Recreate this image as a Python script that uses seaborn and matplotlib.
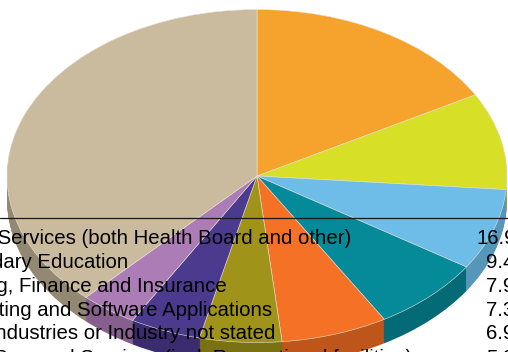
import matplotlib
matplotlib.use("Agg")
import matplotlib.pyplot as plt
import seaborn as sns

values = [16.9, 9.4, 7.9, 7.3, 6.9, 5.3, 4.6, 3.7, 38.0]
top_colors = ["#F6A32D", "#D7DF27", "#6DBDE8", "#058A99", "#F57125",
              "#9F9419", "#4B3A8E", "#AC7CB6", "#CABA9E"]
side_colors = ["#B97A22", "#A1A71D", "#5796BB", "#046A76", "#BE561B",
               "#7A7113", "#3A2C6E", "#865F8E", "#938872"]
row_labels = ["Health Services (both Health Board and other)",
              "Secondary Education",
              "Banking, Finance and Insurance",
              "Computing and Software Applications",
              "Other Industries or Industry not stated",
              "Personal Services (incl. Recreational facilities)"]
row_values = ["16.9%", "9.4%", "7.9%", "7.3%", "6.9%", "5.3%"]

sns.set_theme(style="white")
plt.rcParams["font.family"] = ["Liberation Sans", "DejaVu Sans"]

W, H = 508, 352
CX, CY, RX, RY, DEPTH = 257.0, 176.0, 250.0, 166.5, 24
fig = plt.figure(figsize=(W / 100, H / 100), dpi=100)
ax = fig.add_axes([0, 0, 1, 1])

# side wall: stacked layers under the top face
for d in range(DEPTH, 0, -1):
    ax.pie(values, colors=sns.color_palette(side_colors), startangle=90,
           counterclock=False, center=(0, -d / RY), radius=1,
           normalize=True, wedgeprops={"linewidth": 0})
ax.pie(values, colors=sns.color_palette(top_colors), startangle=90,
       counterclock=False, center=(0, 0), radius=1, normalize=True,
       wedgeprops={"linewidth": 0.4, "edgecolor": "#e8e4da"})

ax.set_aspect("auto")
ax.set_xlim((0 - CX) / RX, (W - CX) / RX)
ax.set_ylim((CY - H) / RY, CY / RY)
ax.set_position([0, 0, 1, 1])
ax.axis("off")

def fx(px):
    return px / W
def fy(py):
    return 1 - py / H

fig.add_artist(plt.Line2D([0, 1], [fy(218), fy(218)], color="#1a1a1a", lw=0.9))
row_y = [238, 262, 286, 310, 333.5, 358]
row_right = [351.5, 128, 227, 272.5, 275, 412]
for lab, val, y, r in zip(row_labels, row_values, row_y, row_right):
    fig.text(fx(r), fy(y), lab, ha="right", va="center", fontsize=14.7, color="black")
    fig.text(fx(476 if val.startswith("16") else 486), fy(y), val, ha="left", va="center",
             fontsize=14.7, color="black")

fig.savefig("out.png", dpi=100)
